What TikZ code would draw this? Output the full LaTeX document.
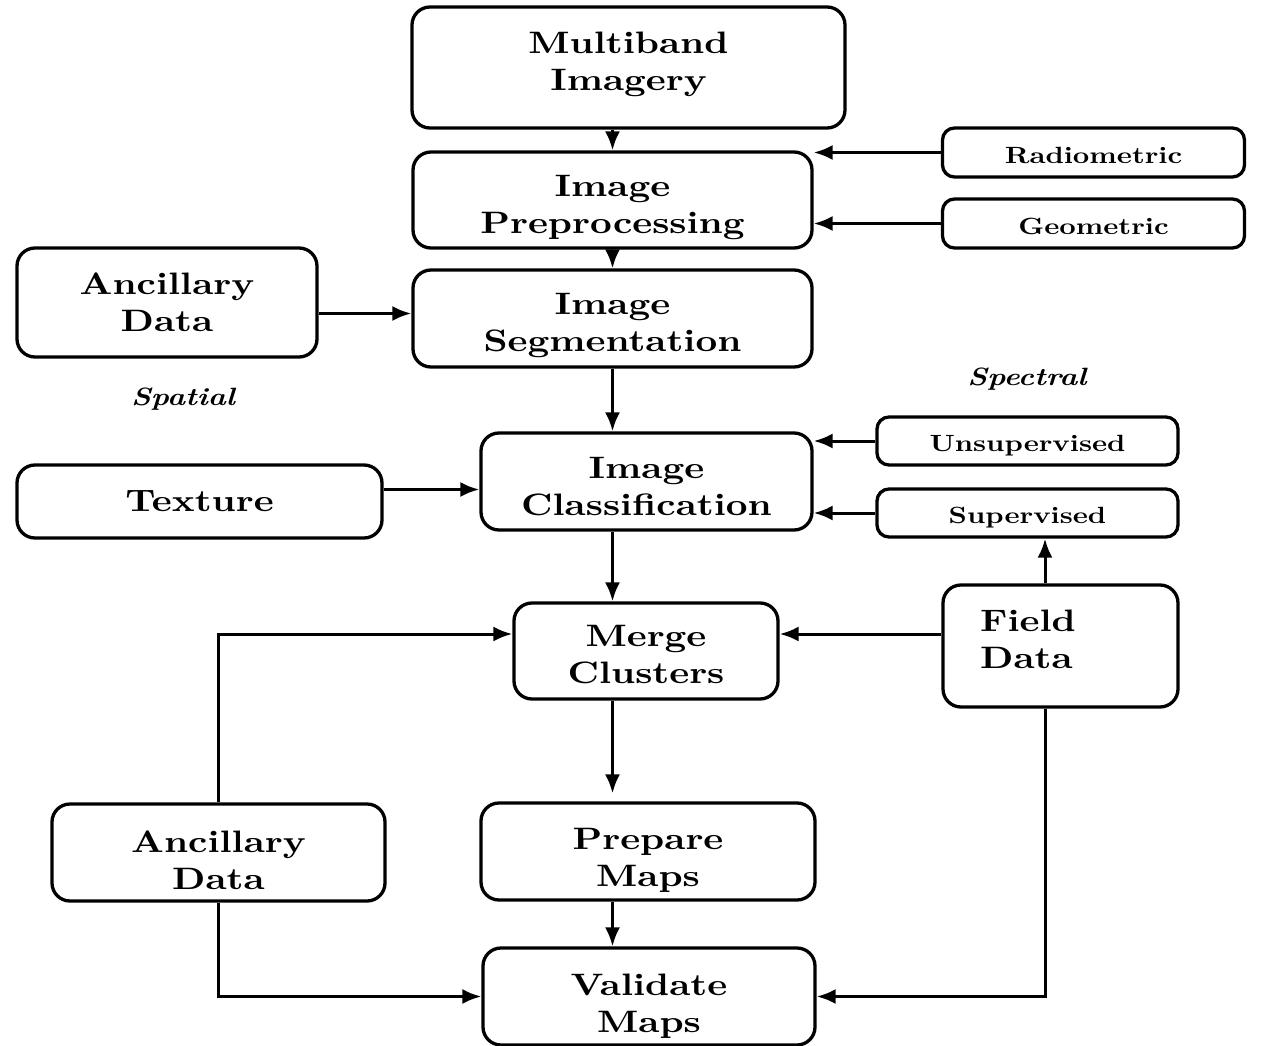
\documentclass[tikz,border=0pt]{standalone}
\usepackage{fontspec}
\setmainfont{lmroman10}[Extension=.otf, UprightFont=*-regular, BoldFont=*-bold, ItalicFont=*-italic, BoldItalicFont=*-bolditalic, FakeStretch=1.22]
\usetikzlibrary{arrows.meta}
\newcommand\bigtxt{\fontsize{31}{37}\selectfont\bfseries}
\newcommand\smalltxt{\fontsize{23.5}{28}\selectfont\bfseries}
\newcommand\labtxt{\fontsize{25}{30}\selectfont\bfseries\itshape}
\newcommand\tstr[1]{\rule{0pt}{#1pt}}
\tikzset{
  box/.style={draw, line width=3.3pt, rounded corners=18pt, align=center, font=\bigtxt, inner sep=0pt},
  sbox/.style={draw, line width=3.3pt, rounded corners=12pt, align=center, font=\smalltxt, inner sep=0pt, minimum width=302, minimum height=49},
  lab/.style={font=\labtxt, inner sep=0pt},
  conn/.style={line width=3pt, -{Latex[length=19pt,width=15pt]}}
}
\begin{document}
\begin{tikzpicture}[x=1pt,y=-1pt]
\useasboundingbox (0,0) rectangle (1261,1046);
\node[box, minimum width=433, minimum height=121] (multi) at (628.5,67.5) {Multiband\\Imagery\rule[-12pt]{0pt}{0pt}};
\node[box, minimum width=399, minimum height=96] (pre) at (612.5,200) {\tstr{35.5}Image\\Preprocessing};
\node[sbox] (radio) at (1093.5,152.5) {\tstr{22.3}Radiometric};
\node[sbox] (geo) at (1093.5,223.5) {\tstr{22.3}Geometric};
\node[box, minimum width=300, minimum height=109] (anc1) at (167,302.5) {Ancillary\\Data};
\node[box, minimum width=399, minimum height=97] (seg) at (612.5,318.5) {\tstr{35.5}Image\\Segmentation};
\node[lab] (spatial) at (183,399) {Spatial};
\node[lab] (spectral) at (1027,379) {Spectral};
\node[sbox, minimum width=301, minimum height=48] (unsup) at (1027.5,441) {\tstr{26.3}Unsupervised};
\node[sbox, minimum width=301, minimum height=48] (sup) at (1027.5,513) {\tstr{26.3}Supervised};
\node[box, minimum width=365, minimum height=73] (tex) at (199.5,501.5) {Texture};
\node[box, minimum width=331, minimum height=97] (cls) at (646.5,481.5) {\tstr{31.5}Image\\Classification};
\node[box, minimum width=264, minimum height=96] (merge) at (646,651) {\tstr{27.5}Merge\\Clusters};
\node[box, minimum width=235, minimum height=122] (field) at (1060.5,646) {};
\node[font=\bigtxt, align=left, inner sep=0pt, anchor=north west] (fieldtxt) at (980,610) {Field\\Data};
\node[box, minimum width=333, minimum height=97] (anc2) at (218.5,852.5) {\tstr{37.5}Ancillary\\Data};
\node[box, minimum width=334, minimum height=97] (prep) at (648,851.5) {\tstr{39.5}Prepare\\Maps};
\node[box, minimum width=332, minimum height=97] (val) at (649,996.5) {\tstr{41.5}Validate\\Maps};

\draw[conn] (multi.south -| pre.north) -- (pre.north);
\draw[conn] (radio.west) -- (radio.west -| pre.east);
\draw[conn] (geo.west) -- (geo.west -| pre.east);
\draw[conn] (pre.south) -- (seg.north);
\draw[conn] ([yshift=5pt]seg.west -| anc1.east) -- ([yshift=5pt]seg.west);
\draw[conn] (seg.south) -- (seg.south |- cls.north);
\draw[conn] (unsup.west) -- (unsup.west -| cls.east);
\draw[conn] (sup.west) -- (sup.west -| cls.east);
\draw[conn] ([yshift=-8pt]cls.west -| tex.east) -- ([yshift=-8pt]cls.west);
\draw[conn] (seg.south |- cls.south) -- (seg.south |- merge.north);
\draw[conn] ([xshift=-15.5pt]field.north) -- ([xshift=-15.5pt]field.north |- sup.south);
\draw[conn] ([yshift=12pt]field.west) -- ([yshift=12pt]field.west -| merge.east);
\draw[conn] (anc2.north) |- ([yshift=17pt]merge.west);
\draw[conn] (seg.south |- merge.south) -- ([yshift=8pt]prep.north -| seg.south);
\draw[conn] (seg.south |- prep.south) -- (seg.south |- val.north);
\draw[conn] (anc2.south) |- (val.west);
\draw[conn] ([xshift=-15.5pt]field.south) |- (val.east);
\end{tikzpicture}
\end{document}
